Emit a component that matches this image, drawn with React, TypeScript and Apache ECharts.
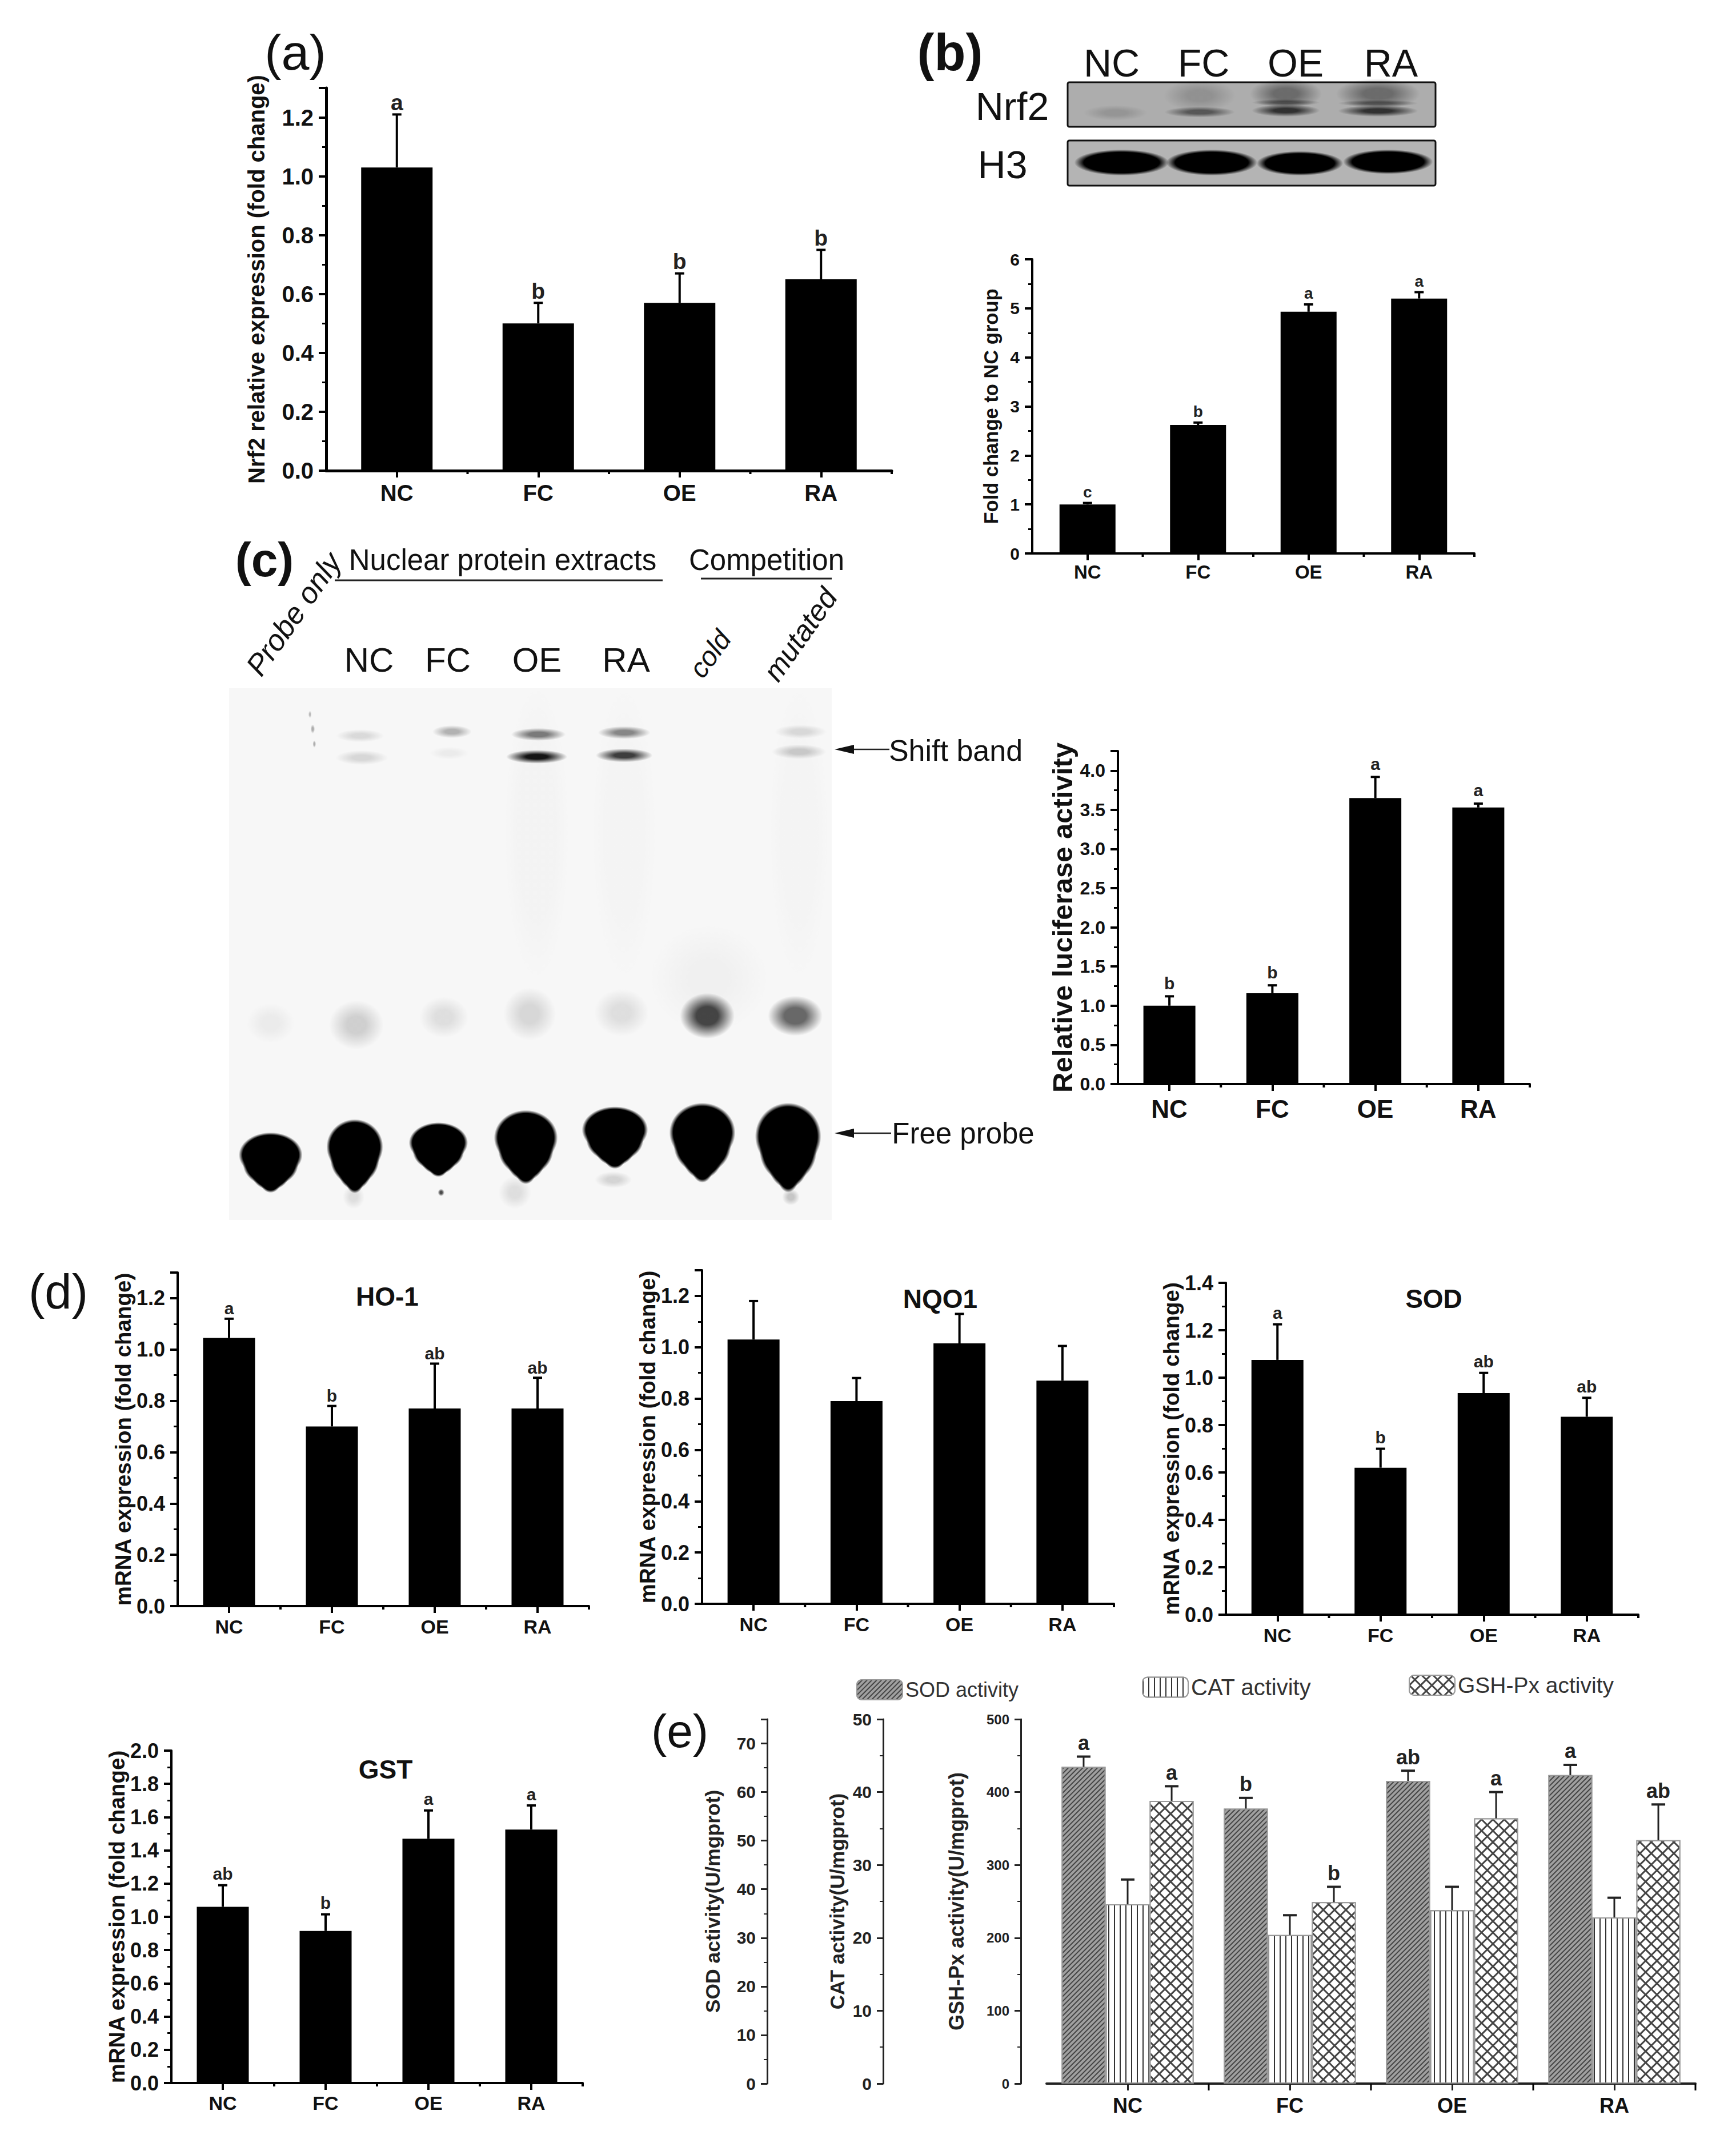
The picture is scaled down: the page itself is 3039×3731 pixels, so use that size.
import React, { useEffect, useRef } from "react";
import * as echarts from "echarts";

const FONT = "Liberation Sans";
const categories = ["NC", "FC", "OE", "RA"];

const aValues = [1.03, 0.5, 0.57, 0.65];
const aTops = [1.21, 0.57, 0.67, 0.75];
const aLetters = ["a", "b", "b", "b"];

const bValues = [1.0, 2.62, 4.93, 5.2];
const bTops = [1.03, 2.67, 5.08, 5.33];
const bLetters = ["c", "b", "a", "a"];

const cValues = [1.0, 1.16, 3.65, 3.53];
const cTops = [1.12, 1.26, 3.92, 3.58];
const cLetters = ["b", "b", "a", "a"];

const hoValues = [1.045, 0.7, 0.77, 0.77];
const hoTops = [1.12, 0.78, 0.945, 0.89];
const hoLetters = ["a", "b", "ab", "ab"];

const nqoValues = [1.03, 0.79, 1.015, 0.87];
const nqoTops = [1.18, 0.88, 1.13, 1.005];
const nqoLetters = ["", "", "", ""];

const sodValues = [1.075, 0.62, 0.935, 0.835];
const sodTops = [1.225, 0.7, 1.02, 0.915];
const sodLetters = ["a", "b", "ab", "ab"];

const gstValues = [1.06, 0.915, 1.47, 1.525];
const gstTops = [1.19, 1.015, 1.64, 1.67];
const gstLetters = ["ab", "b", "a", "a"];

const sodActivity = [65.2, 56.6, 62.3, 63.5];
const sodActivityTops = [67.3, 58.8, 64.4, 65.6];
const sodActivityLetters = ["a", "b", "ab", "a"];

const catActivity = [24.6, 20.4, 23.8, 22.8];
const catActivityTops = [28.0, 23.1, 27.0, 25.5];
const catActivityLetters = ["", "", "", ""];

const gshActivity = [388, 249, 364, 334];
const gshActivityTops = [408, 270, 400, 383];
const gshActivityLetters = ["a", "b", "a", "ab"];

// Decorative blot / gel imagery, expressed in page coordinates through these helpers.
const blob = (cx: number, cy: number, rx: number, ry: number, alpha: number, core = 0.35, rgb = "0,0,0") => ({
  type: "ellipse",
  silent: true,
  shape: { cx, cy, rx, ry },
  style: {
    fill: new echarts.graphic.RadialGradient(0.5, 0.5, 0.5, [
      { offset: 0, color: `rgba(${rgb},${alpha})` },
      { offset: core, color: `rgba(${rgb},${alpha})` },
      { offset: 1, color: `rgba(${rgb},0)` },
    ]),
  },
});

const label = (text: string, x: number, y: number, fontSize: number, extra: any = {}, rotation = 0) => ({
  type: "text",
  x,
  y,
  rotation,
  silent: true,
  style: {
    text,
    fontSize,
    fontFamily: FONT,
    fill: "#111",
    align: "center",
    verticalAlign: "middle",
    ...extra,
  },
});

const hline = (x1: number, x2: number, y: number, lineWidth = 3) => ({
  type: "line",
  silent: true,
  shape: { x1, y1: y, x2, y2: y },
  style: { stroke: "#222", lineWidth },
});

const arrow = (x1: number, x2: number, y: number) => [
  hline(x1 + 20, x2, y, 2.5),
  {
    type: "polygon",
    silent: true,
    shape: { points: [[x1, y], [x1 + 34, y - 8], [x1 + 34, y + 8]] },
    style: { fill: "#111" },
  },
];

const zb = (x: number, y: number, rx: number, ry: number, a: number, core = 0.35) =>
  blob(1560 + x / 1.4255, y / 1.4933, rx / 1.4255, ry / 1.4933, a, core);
const zc = (x: number, y: number, rx: number, ry: number, a: number, core = 0.35) =>
  blob(380 + x / 1.0453, 900 + y / 1.2544, rx / 1.0453, ry / 1.2544, a, core);

// a free-probe spot: broad shoulders tapering smoothly to a point at the bottom
const probe = (x: number, y: number, rx: number, ry: number) => [
  zc(x, y - ry * 0.2, rx * 1.08, ry * 0.8, 1, 0.88),
  zc(x, y + ry * 0.12, rx * 0.94, ry * 0.78, 1, 0.88),
  zc(x, y + ry * 0.42, rx * 0.66, ry * 0.62, 1, 0.86),
  zc(x, y + ry * 0.72, rx * 0.36, ry * 0.42, 1, 0.78),
];

const blotGraphics: any[] = [
  {
    type: "rect", silent: true,
    shape: { x: 1869, y: 144, width: 644, height: 78, r: 3 },
    style: { fill: "#adadad", stroke: "#111", lineWidth: 3 },
  },
  zb(560, 295, 80, 20, 0.14), zb(770, 250, 90, 42, 0.16), zb(770, 293, 88, 14, 0.5),
  zb(985, 245, 90, 40, 0.38), zb(985, 268, 85, 9, 0.42), zb(985, 289, 85, 16, 0.72),
  zb(1215, 245, 105, 40, 0.38), zb(1215, 270, 100, 9, 0.42), zb(1215, 290, 100, 15, 0.72),
  {
    type: "rect", silent: true,
    shape: { x: 1869, y: 246, width: 644, height: 79, r: 3 },
    style: { fill: "#b4b4b4", stroke: "#111", lineWidth: 3 },
  },
  zb(575, 425, 118, 34, 1, 0.8), zb(800, 425, 114, 34, 1, 0.8),
  zb(1020, 427, 108, 32, 1, 0.8), zb(1240, 423, 112, 32, 1, 0.8),
  label("NC", 1946, 110, 68), label("FC", 2107, 110, 68), label("OE", 2268, 110, 68), label("RA", 2435, 110, 68),
  label("Nrf2", 1772, 186, 68), label("H3", 1755, 288, 68),
];

const gelGraphics: any[] = [
  { type: "rect", silent: true, shape: { x: 401, y: 1205, width: 1055, height: 931 }, style: { fill: "#f7f7f7" } },
  // lane haze
  zc(585, 700, 60, 330, 0.015, 0.6), zc(745, 700, 60, 330, 0.012, 0.6), zc(1065, 700, 55, 330, 0.012, 0.6),
  zc(900, 1020, 110, 120, 0.03, 0.3),
  // shift bands
  zc(262, 487, 44, 14, 0.12), zc(265, 535, 48, 16, 0.13),
  zc(430, 478, 36, 14, 0.28), zc(425, 525, 36, 14, 0.05),
  zc(588, 484, 50, 14, 0.5), zc(585, 533, 56, 15, 0.92),
  zc(745, 480, 48, 14, 0.45), zc(745, 530, 52, 15, 0.75),
  zc(1068, 478, 48, 15, 0.12), zc(1065, 522, 50, 16, 0.18),
  // speckles
  zc(170, 440, 3, 8, 0.25), zc(175, 472, 4, 10, 0.3), zc(178, 505, 3, 8, 0.3),
  // retained probe smears
  zc(98, 1118, 44, 44, 0.05), zc(255, 1122, 50, 54, 0.16), zc(415, 1105, 45, 45, 0.1),
  zc(572, 1098, 48, 58, 0.13), zc(740, 1095, 50, 52, 0.1),
  zc(897, 1102, 50, 50, 0.72, 0.4), zc(1058, 1102, 50, 44, 0.58, 0.4),
  // free probe
  ...probe(98, 1420, 54, 62), ...probe(252, 1405, 48, 76), ...probe(405, 1392, 50, 56),
  ...probe(565, 1385, 54, 76), ...probe(728, 1365, 56, 64), ...probe(888, 1375, 56, 82),
  ...probe(1045, 1385, 56, 92),
  zc(545, 1490, 30, 36, 0.1), zc(250, 1500, 20, 26, 0.1), zc(725, 1462, 34, 18, 0.14),
  zc(1050, 1500, 16, 18, 0.2), zc(410, 1490, 6, 8, 0.7),
  label("Nuclear protein extracts", 880, 980, 51),
  hline(586, 1160, 1016),
  label("Competition", 1342, 980, 51),
  hline(1227, 1456, 1013),
  label("Probe only", 514, 1075, 52, { fontStyle: "italic" }, (55 * Math.PI) / 180),
  label("cold", 1243, 1145, 48, { fontStyle: "italic" }, (54 * Math.PI) / 180),
  label("mutated", 1401, 1111, 51, { fontStyle: "italic" }, (55 * Math.PI) / 180),
  label("NC", 646, 1155, 60), label("FC", 784, 1155, 60), label("OE", 940, 1155, 60), label("RA", 1096, 1155, 60),
  ...arrow(1461, 1557, 1312),
  label("Shift band", 1673, 1314, 52),
  ...arrow(1461, 1560, 1984),
  label("Free probe", 1686, 1984, 51),
];

const panelLetters: any[] = [
  label("(a)", 517, 91, 88),
  label("(b)", 1663, 92, 90, { fontWeight: "bold" }),
  label("(c)", 463, 980, 84, { fontWeight: "bold" }),
  label("(d)", 102, 2261, 85),
  label("(e)", 1190, 3030, 82),
];

type Panel = {
  values: number[]; tops: number[]; letters: string[];
  box: number[]; max: number; interval: number; dec: number;
  yName: string; nameSize: number; nameX: number;
  tick: number; cat: number; catY: number; letter: number; letterGap: number; barW: number; axisW: number;
};

const mrnaName = "mRNA expression (fold change)";
const panels: Panel[] = [
  { values: aValues, tops: aTops, letters: aLetters, box: [571, 154, 990, 670], max: 1.3, interval: 0.2, dec: 1,
    yName: "Nrf2 relative expression (fold change)", nameSize: 40, nameX: 449,
    tick: 40, cat: 40, catY: 863, letter: 39, letterGap: 21, barW: 125, axisW: 5 },
  { values: bValues, tops: bTops, letters: bLetters, box: [1807, 454, 774, 515], max: 6, interval: 1, dec: 0,
    yName: "Fold change to NC group", nameSize: 34.5, nameX: 1735,
    tick: 30, cat: 33, catY: 1001, letter: 28, letterGap: 19, barW: 98, axisW: 4 },
  { values: cValues, tops: cTops, letters: cLetters, box: [1957, 1315, 721, 583], max: 4.25, interval: 0.5, dec: 1,
    yName: "Relative luciferase activity", nameSize: 49, nameX: 1860,
    tick: 32, cat: 44, catY: 1941, letter: 30, letterGap: 23, barW: 91, axisW: 4 },
  { values: hoValues, tops: hoTops, letters: hoLetters, box: [311, 2228, 720, 584], max: 1.3, interval: 0.2, dec: 1,
    yName: mrnaName, nameSize: 38.5, nameX: 217, tick: 36, cat: 34, catY: 2848, letter: 30, letterGap: 18, barW: 91, axisW: 4 },
  { values: nqoValues, tops: nqoTops, letters: nqoLetters, box: [1229, 2224, 721, 584], max: 1.3, interval: 0.2, dec: 1,
    yName: mrnaName, nameSize: 38.5, nameX: 1136, tick: 36, cat: 34, catY: 2844, letter: 30, letterGap: 18, barW: 91, axisW: 4 },
  { values: sodValues, tops: sodTops, letters: sodLetters, box: [2146, 2246, 722, 581], max: 1.4, interval: 0.2, dec: 1,
    yName: mrnaName, nameSize: 38.5, nameX: 2054, tick: 36, cat: 34, catY: 2863, letter: 30, letterGap: 20, barW: 91, axisW: 4 },
  { values: gstValues, tops: gstTops, letters: gstLetters, box: [300, 3065, 720, 582], max: 2, interval: 0.2, dec: 1,
    yName: mrnaName, nameSize: 38.5, nameX: 207, tick: 36, cat: 34, catY: 3682, letter: 30, letterGap: 20, barW: 91, axisW: 4 },
];

const panelTitles = [
  { text: "HO-1", x: 678, y: 2270 },
  { text: "NQO1", x: 1646, y: 2274 },
  { text: "SOD", x: 2510, y: 2274 },
  { text: "GST", x: 675, y: 3098 },
];

const errorSeries = (
  xAxisIndex: number, yAxisIndex: number, values: number[], tops: number[], letters: string[],
  o: { stem: number; cap: number; capW: number; font: number; gap: number; shift: number; edgeLen: number; axisW: number; color: string }
) => ({
  type: "custom",
  xAxisIndex,
  yAxisIndex,
  clip: false,
  silent: true,
  z: 5,
  encode: { x: 0, y: [1, 2] },
  data: values.map((v, i) => [i, v, tops[i]]),
  renderItem: (params: any, api: any) => {
    const i = api.value(0);
    const band = api.size([1, 0])[0];
    const [cx, base] = api.coord([i, api.value(1)]);
    const top = api.coord([i, api.value(2)])[1];
    const zero = api.coord([i, 0])[1];
    const x = cx + o.shift * band;
    const kids: any[] = [
      { type: "line", shape: { x1: x, y1: base, x2: x, y2: top }, style: { stroke: o.color, lineWidth: o.stem } },
      { type: "line", shape: { x1: x - o.cap / 2, y1: top, x2: x + o.cap / 2, y2: top }, style: { stroke: o.color, lineWidth: o.capW } },
    ];
    const text = letters[params.dataIndex];
    if (text) {
      kids.push({
        type: "text",
        style: {
          text, x, y: top - o.gap, fontSize: o.font, fontWeight: "bold", fontFamily: FONT, fill: "#222",
          align: "center", verticalAlign: "middle",
        },
      });
    }
    if (o.edgeLen > 0) {
      const edgeX = cx + band / 2;
      kids.push({
        type: "line",
        shape: { x1: edgeX, y1: zero, x2: edgeX, y2: zero + o.edgeLen },
        style: { stroke: "#000", lineWidth: o.axisW },
      });
    }
    return { type: "group", children: kids };
  },
});

const tickFormatter = (interval: number, dec: number) => (v: number) =>
  Math.abs(v / interval - Math.round(v / interval)) < 1e-6 ? v.toFixed(dec) : "";

const buildOption = () => {
  const grid: any[] = [];
  const xAxis: any[] = [];
  const yAxis: any[] = [];
  const series: any[] = [];

  panels.forEach((p, idx) => {
    const [left, top, width, height] = p.box;
    grid.push({ left, top, width, height, containLabel: false });
    xAxis.push({
      type: "category", gridIndex: idx, data: categories, boundaryGap: true,
      axisLine: { show: true, lineStyle: { color: "#000", width: p.axisW } },
      axisTick: { show: true, alignWithLabel: true, length: 12, lineStyle: { color: "#000", width: 4 } },
      axisLabel: {
        interval: 0, fontSize: p.cat, fontWeight: "bold", color: "#111", fontFamily: FONT,
        margin: p.catY - (top + height) - p.cat / 2,
      },
    });
    yAxis.push({
      type: "value", gridIndex: idx, min: 0, max: p.max, interval: p.interval,
      name: p.yName, nameLocation: "middle", nameRotate: 90,
      nameGap: left - p.nameX - p.nameSize / 2,
      nameTextStyle: { fontSize: p.nameSize, fontWeight: "bold", color: "#111", fontFamily: FONT },
      splitLine: { show: false },
      axisLine: { show: true, lineStyle: { color: "#000", width: p.axisW } },
      axisTick: { show: true, length: 13, lineStyle: { color: "#000", width: 4 } },
      minorTick: { show: true, splitNumber: 2, length: 7, lineStyle: { color: "#000", width: 3 } },
      axisLabel: {
        fontSize: p.tick, fontWeight: "bold", color: "#111", fontFamily: FONT, margin: 22,
        formatter: tickFormatter(p.interval, p.dec),
      },
    });
    series.push({
      type: "bar", xAxisIndex: idx, yAxisIndex: idx, data: p.values, barWidth: p.barW,
      itemStyle: { color: "#000" }, silent: true,
    });
    series.push(
      errorSeries(idx, idx, p.values, p.tops, p.letters, {
        stem: 4, cap: 16, capW: 4, font: p.letter, gap: p.letterGap, shift: 0,
        edgeLen: 6, axisW: 4, color: "#000",
      })
    );
  });

  // Panel (e): three value axes sharing one grid
  const e = panels.length;
  grid.push({ left: 1832, top: 3010, width: 1136, height: 638 });
  xAxis.push({
    type: "category", gridIndex: e, data: categories, boundaryGap: true,
    axisLine: { show: true, lineStyle: { color: "#222", width: 4 } },
    axisTick: { show: true, alignWithLabel: true, length: 12, lineStyle: { color: "#222", width: 3 } },
    axisLabel: { interval: 0, fontSize: 36, fontWeight: "bold", color: "#111", fontFamily: FONT, margin: 20 },
  });
  const eAxes = [
    { name: "SOD activity(U/mgprot)", max: 75, interval: 10, axisX: 1343, nameX: 1248, nameSize: 35.5, tick: 30 },
    { name: "CAT activity(U/mgprot)", max: 50, interval: 10, axisX: 1546, nameX: 1465, nameSize: 35, tick: 30 },
    { name: "GSH-Px activity(U/mgprot)", max: 500, interval: 100, axisX: 1787, nameX: 1674, nameSize: 36, tick: 24 },
  ];
  eAxes.forEach((a) => {
    yAxis.push({
      type: "value", gridIndex: e, position: "left", offset: 1832 - a.axisX,
      min: 0, max: a.max, interval: a.interval,
      name: a.name, nameLocation: "middle", nameRotate: 90,
      nameGap: a.axisX - a.nameX - a.nameSize / 2,
      nameTextStyle: { fontSize: a.nameSize, fontWeight: "bold", color: "#222", fontFamily: FONT },
      splitLine: { show: false },
      axisLine: { show: true, lineStyle: { color: "#222", width: 3 } },
      axisTick: { show: true, length: 11, lineStyle: { color: "#222", width: 3 } },
      minorTick: { show: true, splitNumber: 2, length: 6, lineStyle: { color: "#222", width: 2 } },
      axisLabel: {
        fontSize: a.tick, fontWeight: "bold", color: "#222", fontFamily: FONT, margin: 20,
        formatter: tickFormatter(a.interval, 0),
      },
    });
  });

  const eSeries = [
    {
      name: "SOD activity", values: sodActivity, tops: sodActivityTops, letters: sodActivityLetters, y: e,
      color: "#a0a0a0", shift: -0.2713,
      decal: { symbol: "rect", symbolSize: 1, dashArrayX: [1, 0], dashArrayY: [2, 4], rotation: -Math.PI / 4, color: "#444", backgroundColor: "#b4b4b4" },
    },
    {
      name: "CAT activity", values: catActivity, tops: catActivityTops, letters: catActivityLetters, y: e + 1,
      color: "#ffffff", shift: 0,
      decal: { symbol: "rect", symbolSize: 1, dashArrayX: [2, 8], dashArrayY: [1, 0], color: "#333", backgroundColor: "#fff" },
    },
    {
      name: "GSH-Px activity", values: gshActivity, tops: gshActivityTops, letters: gshActivityLetters, y: e + 2,
      color: "#444444", shift: 0.2713,
      decal: { symbol: "rect", symbolSize: 1, dashArrayX: [11, 3], dashArrayY: [11, 3], rotation: Math.PI / 4, color: "#fff", backgroundColor: "#333" },
    },
  ];
  eSeries.forEach((s) => {
    series.push({
      type: "bar", name: s.name, xAxisIndex: e, yAxisIndex: s.y, data: s.values,
      barGap: 0, barCategoryGap: "18.6%", silent: true,
      itemStyle: { color: s.color, decal: s.decal, borderColor: "#999", borderWidth: 2 },
    });
    series.push(
      errorSeries(e, s.y, s.values, s.tops, s.letters, {
        stem: 3, cap: 24, capW: 4, font: 36, gap: 24, shift: s.shift,
        edgeLen: s.shift > 0 ? 12 : 0, axisW: 3, color: "#222",
      })
    );
  });

  const legendBase = {
    orient: "horizontal", selectedMode: false, itemWidth: 80, itemHeight: 35,
    padding: 0,
  };
  const legendText = (fontSize: number) => ({ fontSize, color: "#333", fontFamily: FONT });

  return {
    animation: false,
    backgroundColor: "#ffffff",
    textStyle: { fontFamily: FONT },
    title: panelTitles.map((t) => ({
      text: t.text, left: t.x, top: t.y, textAlign: "center", textVerticalAlign: "middle", padding: 0,
      textStyle: { fontSize: 46, fontWeight: "bold", color: "#111", fontFamily: FONT },
    })),
    legend: [
      { ...legendBase, left: 1499, top: 2940, itemGap: 12, textStyle: legendText(36), data: ["SOD activity"] },
      { ...legendBase, left: 1999, top: 2934, itemGap: 18, textStyle: legendText(40), data: ["CAT activity"] },
      { ...legendBase, left: 2466, top: 2931, itemGap: 22, textStyle: legendText(39), data: ["GSH-Px activity"] },
    ],
    grid, xAxis, yAxis, series,
    graphic: { elements: [...blotGraphics, ...gelGraphics, ...panelLetters] },
  };
};

export default function App() {
  const ref = useRef<HTMLDivElement | null>(null);
  useEffect(() => {
    document.body.style.margin = "0";
    const chart = echarts.init(ref.current as HTMLDivElement, undefined, { renderer: "svg" });
    chart.setOption(buildOption() as any);
    return () => chart.dispose();
  }, []);
  return <div ref={ref} style={{ position: "absolute", left: 0, top: 0, width: 3039, height: 3731 }} />;
}
